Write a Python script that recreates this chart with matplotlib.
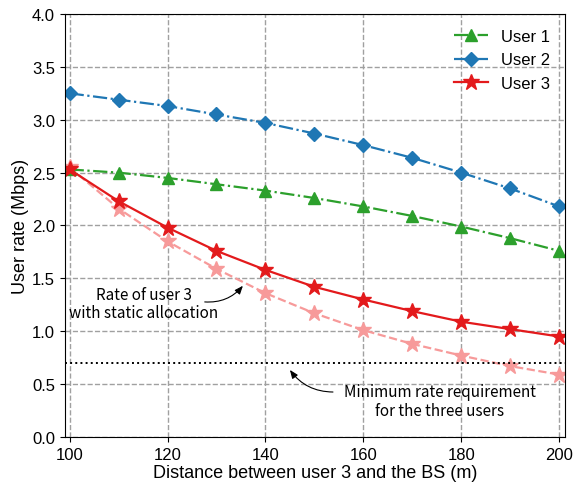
import numpy as np
import matplotlib.pyplot as plt

distance = [100, 110, 120, 130, 140, 150, 160, 170, 180, 190, 200]
user1 = [2.53, 2.50, 2.45, 2.39, 2.33, 2.26, 2.18, 2.09, 1.99, 1.88, 1.76]
user2 = [3.25, 3.19, 3.13, 3.05, 2.97, 2.87, 2.76, 2.64, 2.50, 2.35, 2.18]
user3 = [2.53, 2.23, 1.98, 1.76, 1.58, 1.42, 1.30, 1.19, 1.09, 1.02, 0.95]
user3_static = [2.55, 2.16, 1.85, 1.59, 1.36, 1.17, 1.01, 0.88, 0.77, 0.67, 0.59]
min_rate = 0.7


def main():
    plt.rcParams['font.family'] = ['Liberation Sans', 'DejaVu Sans']
    fig = plt.figure(figsize=(5.73, 4.85), dpi=100)
    ax = fig.add_axes([0.113, 0.097, 0.873, 0.872])

    ax.plot(distance, user3_static, '--', color='#f79a9a', marker='*', markersize=12, lw=1.6)
    ax.plot(distance, user1, '-.', color='#2ca02c', marker='^', markersize=8, lw=1.6, label='User 1')
    ax.plot(distance, user2, '-.', color='#1f77b4', marker='D', markersize=7, lw=1.6, label='User 2')
    ax.plot(distance, user3, '-', color='#e31a1c', marker='*', markersize=12, lw=1.6, label='User 3')
    ax.axhline(min_rate, color='black', ls=':', lw=1.4)

    # annotations (text and arrows placed separately)
    annot_font = ['Noto Sans CJK KR', 'DejaVu Sans']
    arrow = dict(arrowstyle='-|>,head_length=0.5,head_width=0.2', color='black', lw=0.8,
                 shrinkA=0, shrinkB=0)
    ax.text(115.1, 1.26, 'Rate of user 3\nwith static allocation', ha='center', va='center',
            fontsize=11, family=annot_font, linespacing=1.1)
    ax.annotate('', xy=(135.4, 1.43), xytext=(127.6, 1.277),
                arrowprops=dict(arrow, connectionstyle='arc3,rad=0.25'))
    ax.text(175.6, 0.34, 'Minimum rate requirement\nfor the three users', ha='center', va='center',
            fontsize=11, family=annot_font, linespacing=1.1)
    ax.annotate('', xy=(145.0, 0.634), xytext=(153.8, 0.425),
                arrowprops=dict(arrow, connectionstyle='arc3,rad=-0.25'))

    ax.set_xlim(99, 201.2)
    ax.set_ylim(0, 4)
    ax.set_xticks([100, 120, 140, 160, 180, 200])
    ax.set_yticks(np.arange(0, 4.01, 0.5))
    ax.tick_params(labelsize=12)
    ax.set_xlabel('Distance between user 3 and the BS (m)', fontsize=13, labelpad=2)
    ax.set_ylabel('User rate (Mbps)', fontsize=13, labelpad=2)

    ax.grid(True, ls='--', color='#a0a0a0', lw=1)
    ax.legend(loc='upper right', frameon=False, fontsize=12)

    plt.savefig('out.png')


if __name__ == '__main__':
    main()
